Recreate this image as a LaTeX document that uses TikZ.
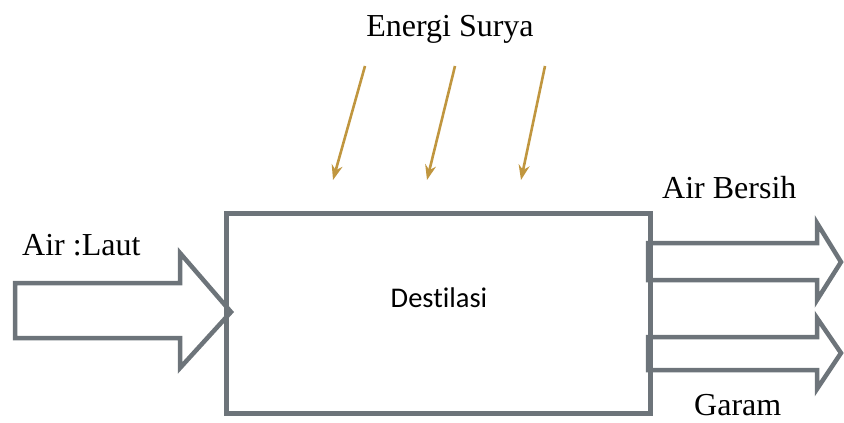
\documentclass[tikz,border=0pt]{standalone}
\usepackage{fontspec}
\setmainfont{Liberation Serif}
\newfontfamily\bodyfont[Ligatures={NoCommon}]{Carlito}
\usepackage{tikz}
\usetikzlibrary{arrows.meta, positioning}
\usepackage{xcolor}
\definecolor{boxgray}{HTML}{6D747A}
\definecolor{sungold}{HTML}{C0963F}

\begin{document}
\begin{tikzpicture}[x=1pt, y=-1pt,
    process/.style = {draw=boxgray, line width=5pt, minimum width=424pt, minimum height=200pt, inner sep=0pt},
    flow/.style = {draw=boxgray, line width=4.5pt, line join=miter},
    ray/.style = {draw=sungold, line width=2.6pt, -{Stealth[length=15pt, width=11pt]}},
    caption/.style = {font=\fontsize{32}{32}\selectfont, inner sep=0pt}
]
\useasboundingbox (0,0) rectangle (844,423);

% Process box
\node (box) [process] at (438,313) {};
\node (name) [font=\bodyfont\fontsize{28.5}{28.5}\selectfont, inner sep=0pt, anchor=base] at (439,307) {Destilasi};

% Input
\node (inlbl) [caption, anchor=base west] at (22,255) {Air :Laut};
\draw [flow] (15,283) -- (180,283) -- (180,253) -- (231,312) -- (180,368) -- (180,338) -- (15,338) -- cycle;

% Outputs
\node (outlbl) [caption, anchor=base west] at (662,198) {Air Bersih};
\draw [flow] (648,243) -- (817,243) -- (817,223) -- (841,262) -- (817,300) -- (817,280) -- (648,280) -- cycle;
\node (saltlbl) [caption, anchor=base west] at (694,415) {Garam};
\draw [flow] (648,337) -- (817,337) -- (817,318) -- (841,353) -- (817,389) -- (817,370) -- (648,370) -- cycle;

% Solar energy
\node (sun) [caption, anchor=base] at (450,36) {Energi Surya};
\coordinate (r1) at (365,66);
\coordinate (r2) at (455,66);
\coordinate (r3) at (545,66);
\coordinate (h1) at (333,180);
\coordinate (h2) at (427,180);
\coordinate (h3) at (521,180);
\draw [ray] (r1) -- (h1);
\draw [ray] (r2) -- (h2);
\draw [ray] (r3) -- (h3);

\end{tikzpicture}
\end{document}
